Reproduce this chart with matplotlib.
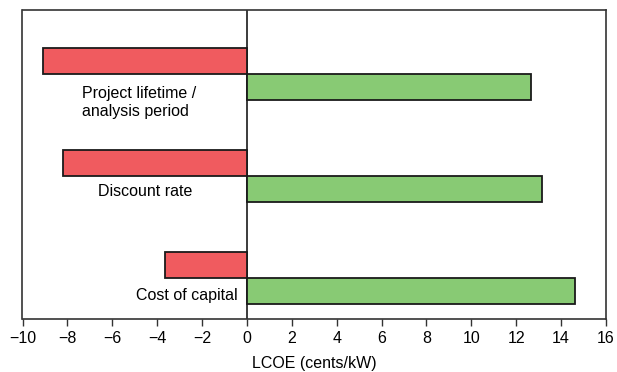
import numpy as np
import matplotlib.pyplot as plt

plt.rcParams['font.family'] = ['Liberation Sans', 'DejaVu Sans']

# sensitivity of LCOE (cents/kW)
factors = ["Project lifetime /\nanalysis period", "Discount rate", "Cost of capital"]
low_vals = [-9.07, -8.2, -3.65]
high_vals = [12.65, 13.15, 14.6]
xticks = [-10, -8, -6, -4, -2, 0, 2, 4, 6, 8, 10, 12, 14, 16]

red = "#f05b5f"
green = "#88ca74"
h = 0.255

fig = plt.figure(figsize=(6.17, 3.72), dpi=100)
ax = fig.add_axes([22.5 / 617, 1 - 318.5 / 372, 583.5 / 617, 309 / 372])

ypos = np.arange(len(factors))[::-1]
ax.barh(ypos + h / 2, low_vals, height=h, color=red, edgecolor="#1a1a1a", linewidth=1.3)
ax.barh(ypos - h / 2, high_vals, height=h, color=green, edgecolor="#1a1a1a", linewidth=1.3)

ax.axvline(0, color="#1a1a1a", linewidth=1.2, zorder=0)

# labels under the red bars
ax.text(-7.35, ypos[0] - 0.28, factors[0], ha="left", va="center", fontsize=11.5, linespacing=1.25)
ax.text(-4.55, ypos[1] - 0.15, factors[1], ha="center", va="center", fontsize=11.5)
ax.text(-2.7, ypos[2] - 0.17, factors[2], ha="center", va="center", fontsize=11.5)

ax.set_xlim(-10, 16)
ax.set_ylim(-0.392, 2.627)
ax.set_xticks(xticks)
ax.set_xticklabels([str(t).replace("-", "\u2212") for t in xticks], fontsize=11.5)
ax.set_yticks([])
ax.tick_params(axis="x", direction="out", length=5, width=1, color="#333333", pad=4)
for s in ax.spines.values():
    s.set_color("#333333")
    s.set_linewidth(1.2)
ax.set_xlabel("LCOE (cents/kW)", fontsize=11.5, labelpad=7)

fig.savefig("out.png", dpi=100)
